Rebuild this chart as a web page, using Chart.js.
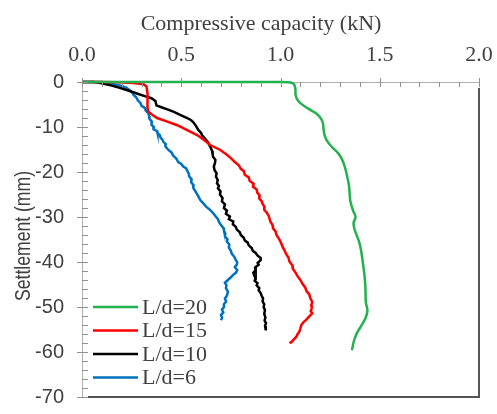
<!DOCTYPE html>
<html>
<head>
<meta charset="utf-8">
<script src="https://cdn.jsdelivr.net/npm/chart.js@4"></script>
<style>
  html, body { margin: 0; padding: 0; background: #fff; overflow: hidden; }
</style>
</head>
<body>
<canvas id="chart" width="497" height="414"></canvas>
<script>
// Load (kN) vs settlement (mm)
const seriesNames = ['L/d=20', 'L/d=15', 'L/d=10', 'L/d=6'];
const seriesColors = ['#22b14c', '#ff0000', '#000000', '#0070c0'];
const seriesTension = [0.3, 0, 0, 0];

const ld20Load = [0, 1.0, 1.05, 1.068, 1.075, 1.076, 1.085, 1.1, 1.125, 1.15, 1.18, 1.2, 1.213, 1.217, 1.222, 1.232, 1.26, 1.29, 1.31, 1.325, 1.338, 1.345, 1.348, 1.352, 1.365, 1.378, 1.368, 1.372, 1.385, 1.398, 1.408, 1.416, 1.424, 1.428, 1.43, 1.438, 1.428, 1.405, 1.385, 1.37, 1.36];
const ld20Settle = [0, 0, -0.1, -0.5, -1.5, -2.9, -3.9, -4.7, -5.5, -6.2, -7, -7.9, -9, -10.5, -11.8, -12.9, -14.5, -15.8, -17.2, -19, -21.4, -23, -24.6, -26.5, -28.5, -30, -31.3, -32.6, -34.2, -35.8, -38, -40.5, -43.3, -46, -49, -50.8, -52.5, -54.3, -55.8, -57.5, -59.6];

const ld15Load = [0, 0.1, 0.18, 0.26, 0.31, 0.325, 0.33, 0.332, 0.328, 0.335, 0.354, 0.378, 0.43, 0.48, 0.53, 0.58, 0.615, 0.646, 0.697, 0.725, 0.75, 0.77, 0.79, 0.8, 0.815, 0.82, 0.84, 0.845, 0.865, 0.862, 0.88, 0.883, 0.895, 0.893, 0.905, 0.91, 0.92, 0.918, 0.93, 0.94, 0.945, 0.95, 0.96, 0.962, 0.975, 0.98, 0.99, 0.998, 1.005, 1.01, 1.02, 1.028, 1.04, 1.045, 1.06, 1.062, 1.075, 1.085, 1.1, 1.11, 1.125, 1.13, 1.145, 1.15, 1.16, 1.155, 1.158, 1.152, 1.16, 1.145, 1.13, 1.115, 1.105, 1.1, 1.095, 1.085, 1.08, 1.065, 1.055, 1.045];
const ld15Settle = [0, 0, -0.05, -0.2, -0.5, -1, -2.5, -4, -5.8, -6.6, -7.3, -8, -8.8, -9.6, -10.7, -11.8, -12.9, -14, -15.1, -16, -16.9, -17.8, -18.5, -19.3, -19.8, -20.6, -21.2, -22, -22.6, -23.3, -23.9, -24.6, -25.2, -25.9, -26.5, -27.1, -27.8, -28.4, -29, -29.7, -30.4, -31.1, -31.8, -32.5, -33.2, -34, -34.7, -35.3, -36, -36.6, -37.4, -38.2, -39, -39.9, -40.8, -41.5, -42.3, -43.1, -44, -44.8, -45.7, -46.4, -47.2, -48, -48.9, -49.6, -50.3, -50.9, -51.4, -52.1, -52.8, -53.4, -54, -54.8, -55.5, -56.1, -56.6, -57.3, -57.8, -58];

const ld10Load = [0, 0.06, 0.1, 0.15, 0.19, 0.24, 0.28, 0.32, 0.35, 0.37, 0.375, 0.4, 0.43, 0.46, 0.5, 0.53, 0.55, 0.56, 0.575, 0.585, 0.6, 0.605, 0.615, 0.635, 0.645, 0.655, 0.658, 0.66, 0.672, 0.67, 0.664, 0.668, 0.678, 0.675, 0.684, 0.68, 0.69, 0.685, 0.698, 0.695, 0.708, 0.705, 0.72, 0.715, 0.73, 0.725, 0.745, 0.74, 0.762, 0.76, 0.775, 0.78, 0.795, 0.8, 0.815, 0.82, 0.835, 0.84, 0.855, 0.86, 0.875, 0.885, 0.9, 0.9, 0.885, 0.89, 0.872, 0.875, 0.863, 0.868, 0.874, 0.87, 0.884, 0.88, 0.893, 0.89, 0.9, 0.905, 0.912, 0.91, 0.918, 0.915, 0.922, 0.918, 0.924, 0.92, 0.927, 0.922, 0.926];
const ld10Settle = [0, 0, -0.3, -0.8, -1.3, -2, -2.6, -3.2, -3.6, -4.2, -5.2, -5.6, -6.1, -6.6, -7.4, -8, -8.5, -8.9, -9.8, -10.6, -11.3, -11.9, -12.3, -13.4, -14.3, -15.3, -16, -16.6, -17.3, -18, -18.8, -19.6, -20.3, -21, -21.8, -22.5, -23.1, -23.6, -24.3, -25, -25.8, -26.5, -27.2, -28, -28.6, -29.3, -29.9, -30.5, -31, -31.6, -32.2, -32.8, -33.4, -34, -34.6, -35.2, -35.7, -36.3, -36.9, -37.5, -38, -38.6, -39.1, -39.6, -40.2, -40.6, -41.2, -41.8, -42.4, -43, -43.6, -44.2, -44.7, -45.2, -45.8, -46.3, -46.9, -47.5, -48.1, -48.8, -49.4, -50, -50.7, -51.5, -52.3, -53, -53.6, -54.2, -55.2];

const ld6Load = [0, 0.1, 0.15, 0.2, 0.225, 0.245, 0.255, 0.26, 0.275, 0.28, 0.295, 0.3, 0.318, 0.32, 0.335, 0.338, 0.34, 0.352, 0.35, 0.362, 0.36, 0.378, 0.38, 0.392, 0.395, 0.405, 0.41, 0.422, 0.42, 0.435, 0.45, 0.46, 0.475, 0.485, 0.5, 0.51, 0.525, 0.53, 0.538, 0.54, 0.552, 0.55, 0.562, 0.56, 0.575, 0.585, 0.595, 0.61, 0.625, 0.645, 0.66, 0.672, 0.685, 0.69, 0.7, 0.712, 0.715, 0.722, 0.72, 0.733, 0.73, 0.742, 0.74, 0.75, 0.755, 0.768, 0.775, 0.782, 0.78, 0.77, 0.782, 0.775, 0.76, 0.75, 0.735, 0.72, 0.728, 0.725, 0.735, 0.73, 0.72, 0.726, 0.715, 0.715, 0.705, 0.712, 0.7, 0.706, 0.7];
const ld6Settle = [0, 0, -0.4, -0.9, -1.3, -2, -2.5, -2.9, -3.5, -4, -4.7, -5.3, -5.8, -6.3, -7, -7.6, -8.2, -8.8, -9.5, -10, -10.5, -10.9, -11.3, -11.8, -12.3, -12.8, -13.3, -13.8, -14.3, -15.1, -15.6, -16.4, -17, -17.8, -18.2, -18.8, -19.2, -19.7, -20.4, -21, -21.6, -22.3, -22.9, -23.5, -24.6, -25.3, -26.2, -26.9, -27.7, -28.4, -29.1, -29.8, -30.5, -31.1, -31.8, -32.4, -33, -33.7, -34.3, -34.9, -35.5, -36.1, -36.8, -37.5, -38.2, -38.9, -39.6, -40.1, -40.6, -41.1, -41.8, -42.4, -42.9, -43.4, -44, -44.6, -45.2, -45.8, -46.6, -47.5, -48.1, -48.8, -49.4, -50, -50.6, -51.2, -51.8, -52.4, -52.9];

const xTicks = [0, 0.5, 1.0, 1.5, 2.0];
const yTicks = [0, -10, -20, -30, -40, -50, -60, -70];
const xTitle = 'Compressive capacity (kN)';
const yTitle = 'Settlement (mm)';

const serif = '"Liberation Serif", "Times New Roman", serif';
const sans = '"Liberation Sans", Arial, sans-serif';
const textColor = '#404040';
const axisColor = '#b0b0b0';

function pts(xs, ys) {
  return xs.map((x, i) => ({ x, y: ys[i] }));
}

const allSeries = [
  pts(ld20Load, ld20Settle),
  pts(ld15Load, ld15Settle),
  pts(ld10Load, ld10Settle),
  pts(ld6Load, ld6Settle)
];

// Ticks, plot frame, axis titles and the inset legend
const framePlugin = {
  id: 'frame',
  afterDraw(chart) {
    const { ctx, chartArea: a, scales: { x, y } } = chart;
    ctx.save();
    ctx.strokeStyle = '#909090';
    ctx.lineWidth = 1;
    ctx.beginPath();
    for (let v = 0; v <= 2.0001; v += 0.1) {
      const px = Math.round(x.getPixelForValue(v)) + 0.5;
      const major = Math.abs(v * 2 - Math.round(v * 2)) < 1e-6;
      ctx.moveTo(px, major ? a.top - 4 : a.top);
      ctx.lineTo(px, a.top + 5);
    }
    for (let v = 0; v >= -70.0001; v -= 2) {
      const py = Math.round(y.getPixelForValue(v)) + 0.5;
      const major = v % 10 === 0;
      ctx.moveTo(major ? a.left - 5 : a.left, py);
      ctx.lineTo(a.left + 6, py);
    }
    ctx.stroke();

    ctx.strokeStyle = '#555555';
    ctx.lineWidth = 2;
    ctx.beginPath();
    ctx.moveTo(a.right, a.top + 6);
    ctx.lineTo(a.right, a.bottom);
    ctx.moveTo(a.left + 6, a.bottom);
    ctx.lineTo(a.right + 1, a.bottom);
    ctx.stroke();

    // axis titles
    ctx.fillStyle = textColor;
    ctx.font = '22px ' + serif;
    ctx.textAlign = 'center';
    ctx.textBaseline = 'alphabetic';
    ctx.fillText(xTitle, 261, 30);

    ctx.save();
    ctx.translate(30, 236);
    ctx.rotate(-Math.PI / 2);
    ctx.scale(0.8, 1);
    ctx.font = '22px ' + sans;
    ctx.fillText(yTitle, 0, 0);
    ctx.restore();

    // legend
    ctx.font = '22px ' + serif;
    ctx.textBaseline = 'middle';
    ctx.textAlign = 'left';
    chart.data.datasets.forEach((ds, i) => {
      const ry = 307 + i * 23.5;
      ctx.strokeStyle = ds.borderColor;
      ctx.lineWidth = 2.5;
      ctx.beginPath();
      ctx.moveTo(93, ry);
      ctx.lineTo(138, ry);
      ctx.stroke();
      ctx.fillStyle = textColor;
      ctx.fillText(ds.label, 142, ry + 1);
    });
    ctx.restore();
  }
};

new Chart(document.getElementById('chart'), {
  type: 'line',
  data: {
    datasets: allSeries.map((data, i) => ({
      label: seriesNames[i],
      data,
      borderColor: seriesColors[i],
      borderWidth: 2.5,
      pointRadius: 0,
      tension: seriesTension[i],
      fill: false,
      clip: 6
    }))
  },
  options: {
    responsive: false,
    animation: false,
    layout: { padding: { left: 0, top: 0, right: 18, bottom: 17 } },
    plugins: {
      legend: { display: false },
      tooltip: { enabled: false }
    },
    scales: {
      x: {
        type: 'linear',
        position: 'top',
        min: 0,
        max: 2.0,
        afterFit(s) {
          s.height = 82;
          s.paddingLeft = 0;
          s.paddingRight = 0;
        },
        afterBuildTicks(s) { s.ticks = xTicks.map(value => ({ value })); },
        ticks: {
          padding: 14,
          color: textColor,
          font: { family: serif, size: 22 },
          callback: v => Number(v).toFixed(1)
        },
        grid: { drawOnChartArea: false, drawTicks: false },
        border: { color: axisColor, width: 1 }
      },
      y: {
        type: 'linear',
        min: -70,
        max: 0,
        afterFit(s) {
          s.width = 82;
          s.paddingTop = 0;
          s.paddingBottom = 0;
        },
        afterBuildTicks(s) { s.ticks = yTicks.map(value => ({ value })); },
        ticks: {
          padding: 18,
          color: textColor,
          font: { family: sans, size: 20 },
          callback: v => String(v)
        },
        grid: { drawOnChartArea: false, drawTicks: false },
        border: { color: axisColor, width: 1 }
      }
    }
  },
  plugins: [framePlugin]
});
</script>
</body>
</html>
